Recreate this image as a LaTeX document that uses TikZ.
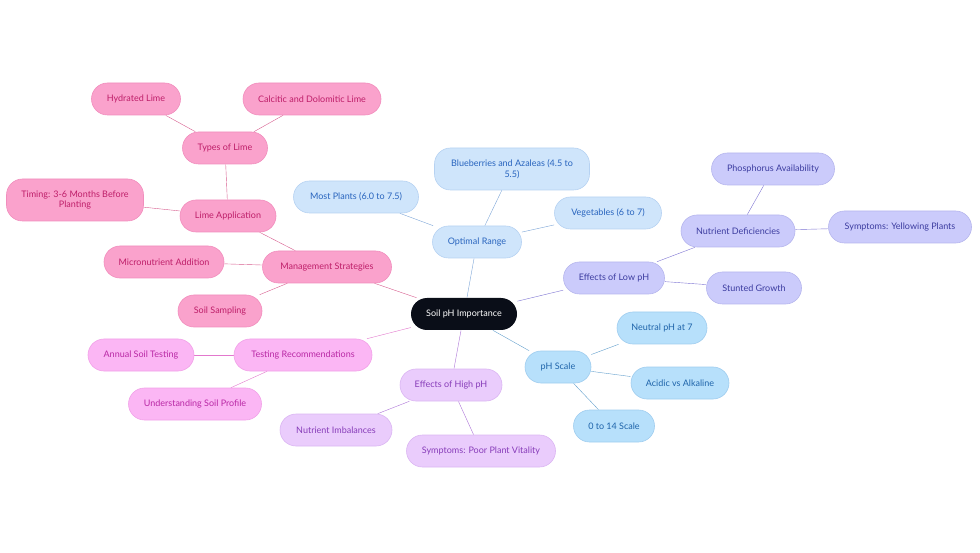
\documentclass[tikz,border=0pt]{standalone}
\usepackage{fontspec}
\setmainfont{Lato}
\usetikzlibrary{backgrounds}

\definecolor{rootfill}{RGB}{10,14,24}
\definecolor{mgmtfill}{RGB}{250,162,204}
\definecolor{mgmttext}{RGB}{190,30,105}
\definecolor{mgmtline}{RGB}{214,92,142}
\definecolor{testfill}{RGB}{251,182,244}
\definecolor{testtext}{RGB}{185,40,165}
\definecolor{testline}{RGB}{226,120,205}
\definecolor{highfill}{RGB}{234,204,252}
\definecolor{hightext}{RGB}{135,60,185}
\definecolor{highline}{RGB}{172,115,215}
\definecolor{optfill}{RGB}{207,229,251}
\definecolor{opttext}{RGB}{40,100,190}
\definecolor{optline}{RGB}{125,165,215}
\definecolor{scalefill}{RGB}{183,224,251}
\definecolor{scaletext}{RGB}{30,100,170}
\definecolor{scaleline}{RGB}{100,160,205}
\definecolor{lowfill}{RGB}{203,203,251}
\definecolor{lowtext}{RGB}{60,60,160}
\definecolor{lowline}{RGB}{125,115,210}

\tikzset{
  topic/.style={rounded corners=16pt,minimum height=32pt,inner xsep=8pt,
    font=\fontsize{9}{10.5}\selectfont,align=center,line width=0.6pt},
  mgmt/.style={topic,fill=mgmtfill,draw=mgmtfill!85!mgmttext,text=mgmttext},
  test/.style={topic,fill=testfill,draw=testfill!85!testtext,text=testtext},
  high/.style={topic,fill=highfill,draw=highfill!85!hightext,text=hightext},
  opt/.style={topic,fill=optfill,draw=optfill!85!opttext,text=opttext},
  phscale/.style={topic,fill=scalefill,draw=scalefill!85!scaletext,text=scaletext},
  low/.style={topic,fill=lowfill,draw=lowfill!85!lowtext,text=lowtext},
  link/.style={line width=1.2pt}
}

\begin{document}
\begin{tikzpicture}[x=1pt, y=-1pt]
            \useasboundingbox (0,0) rectangle (980,553);
            \node[topic,fill=rootfill,text=white,minimum width=106pt] (root) at (464,314) {Soil pH Importance};

            \node[opt,minimum width=89pt] (O) at (477,242) {Optimal Range};
            \node[opt,minimum width=155pt,minimum height=42pt] (O_1) at (512,169) {Blueberries and Azaleas (4.5 to\\5.5)};
            \node[opt,minimum width=125pt] (O_2) at (356,197) {Most Plants (6.0 to 7.5)};
            \node[opt,minimum width=107pt] (O_3) at (608,213) {Vegetables (6 to 7)};

            \node[low,minimum width=101pt] (L) at (614,278) {Effects of Low pH};
            \node[low,minimum width=114pt] (L_1) at (738,231) {Nutrient Deficiencies};
            \node[low,minimum width=123pt] (L_2) at (773,169) {Phosphorus Availability};
            \node[low,minimum width=143pt] (L_3) at (900,227) {Symptoms: Yellowing Plants};
            \node[low,minimum width=95pt] (L_4) at (754,288) {Stunted Growth};

            \node[phscale,minimum width=66pt] (S) at (558,367) {pH Scale};
            \node[phscale,minimum width=90pt] (S_1) at (662,328) {Neutral pH at 7};
            \node[phscale,minimum width=98pt] (S_2) at (680,383) {Acidic vs Alkaline};
            \node[phscale,minimum width=81pt] (S_3) at (614,426) {0 to 14 Scale};

            \node[high,minimum width=102pt] (H) at (451,385) {Effects of High pH};
            \node[high,minimum width=112pt] (H_1) at (336,430) {Nutrient Imbalances};
            \node[high,minimum width=149pt] (H_2) at (481,451) {Symptoms: Poor Plant Vitality};

            \node[test,minimum width=138pt] (T) at (303,355) {Testing Recommendations};
            \node[test,minimum width=106pt] (T_1) at (141,355) {Annual Soil Testing};
            \node[test,minimum width=133pt] (T_2) at (195,404) {Understanding Soil Profile};

            \node[mgmt,minimum width=129pt] (M) at (327,267) {Management Strategies};
            \node[mgmt,minimum width=120pt] (M_1) at (164,262) {Micronutrient Addition};
            \node[mgmt,minimum width=84pt] (M_2) at (220,311) {Soil Sampling};
            \node[mgmt,minimum width=96pt] (M_3) at (228,216) {Lime Application};
            \node[mgmt,minimum width=137pt,minimum height=42pt] (M_4) at (75,200) {Timing: 3-6 Months Before\\Planting};
            \node[mgmt,minimum width=85pt] (M_5) at (225,148) {Types of Lime};
            \node[mgmt,minimum width=89pt] (M_6) at (136,99) {Hydrated Lime};
            \node[mgmt,minimum width=138pt] (M_7) at (312,99) {Calcitic and Dolomitic Lime};

            % connectors behind the boxes
            \begin{scope}[on background layer, link]
            \draw[optline] (root) -- (O);
            \draw[optline] (O) -- (O_1);
            \draw[optline] (O) -- (O_2);
            \draw[optline] (O) -- (O_3);
            \draw[lowline] (root) -- (L);
            \draw[lowline] (L) -- (L_1) -- (L_2);
            \draw[lowline] (L_1) -- (L_3);
            \draw[lowline] (L) -- (L_4);
            \draw[scaleline] (root) -- (S);
            \draw[scaleline] (S) -- (S_1);
            \draw[scaleline] (S) -- (S_2);
            \draw[scaleline] (S) -- (S_3);
            \draw[highline] (root) -- (H);
            \draw[highline] (H) -- (H_1);
            \draw[highline] (H) -- (H_2);
            \draw[testline] (root) -- (T);
            \draw[testline] (T) -- (T_1);
            \draw[testline] (T) -- (T_2);
            \draw[mgmtline] (root) -- (M);
            \draw[mgmtline] (M) -- (M_1);
            \draw[mgmtline] (M) -- (M_2);
            \draw[mgmtline] (M) -- (M_3) -- (M_4);
            \draw[mgmtline] (M_3) -- (M_5) -- (M_6);
            \draw[mgmtline] (M_5) -- (M_7);
            \end{scope}
        \end{tikzpicture}
\end{document}
